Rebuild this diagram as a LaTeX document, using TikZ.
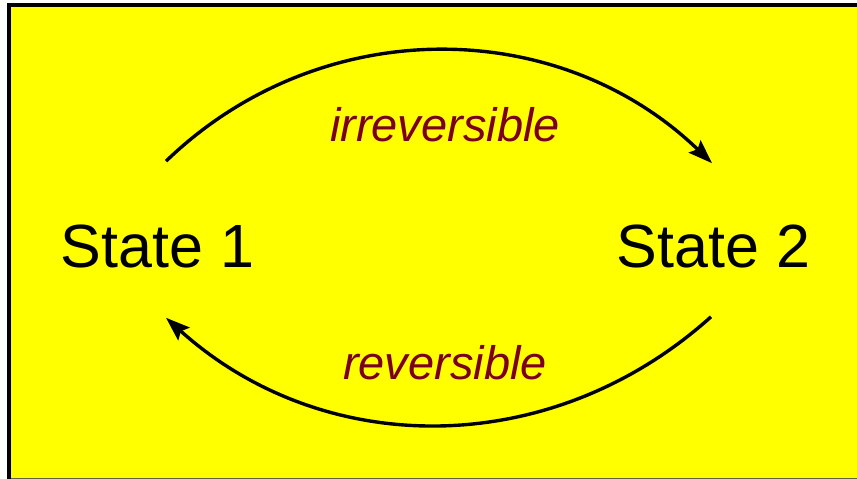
\documentclass[tikz,border=0pt]{standalone}
\usepackage{fontspec}
\setmainfont{Liberation Sans}
\usetikzlibrary{arrows.meta,calc}
\definecolor{bgyellow}{RGB}{255,255,0}
\definecolor{labred}{RGB}{122,0,28}
\tikzset{
  statelabel/.style={inner sep=0pt, anchor=base, font=\fontsize{61}{70}\selectfont},
  arclabel/.style={inner sep=0pt, anchor=base, text=labred, font=\fontsize{47}{56}\selectfont\itshape},
  transition/.style={line width=3.4pt, -{Stealth[length=24pt,width=17pt,inset=4pt]}}
}
\begin{document}
\begin{tikzpicture}[x=1pt,y=1pt]
  \useasboundingbox (0,0) rectangle (857,479);
  \fill[white] (0,0) rectangle (857,479);
  \begin{scope}
    \clip (0,0) rectangle (857,479);
    \filldraw[fill=bgyellow, draw=black, line width=4pt] (9,-2) rectangle (865,473.5);
    \draw[black!70!yellow, line width=1pt] (11,0.5) -- (857,0.5);
  \end{scope}
  \node[statelabel] (s1) at (157.5,211) {State 1};
  \node[statelabel] (s2) at (713.5,211) {State 2};
  \node[arclabel] (irr) at (445,337) {irreversible};
  \node[arclabel] (rev) at (445,99) {reversible};
  \draw[transition] ($(s1.north)+(8.5,64)$) to[out=44,in=136] ($(s2.north)+(-1.5,62)$);
  \draw[transition] ($(s2.south)+(-2.5,-48)$) to[out=-138,in=-42] ($(s1.south)+(8.5,-49)$);
\end{tikzpicture}
\end{document}
